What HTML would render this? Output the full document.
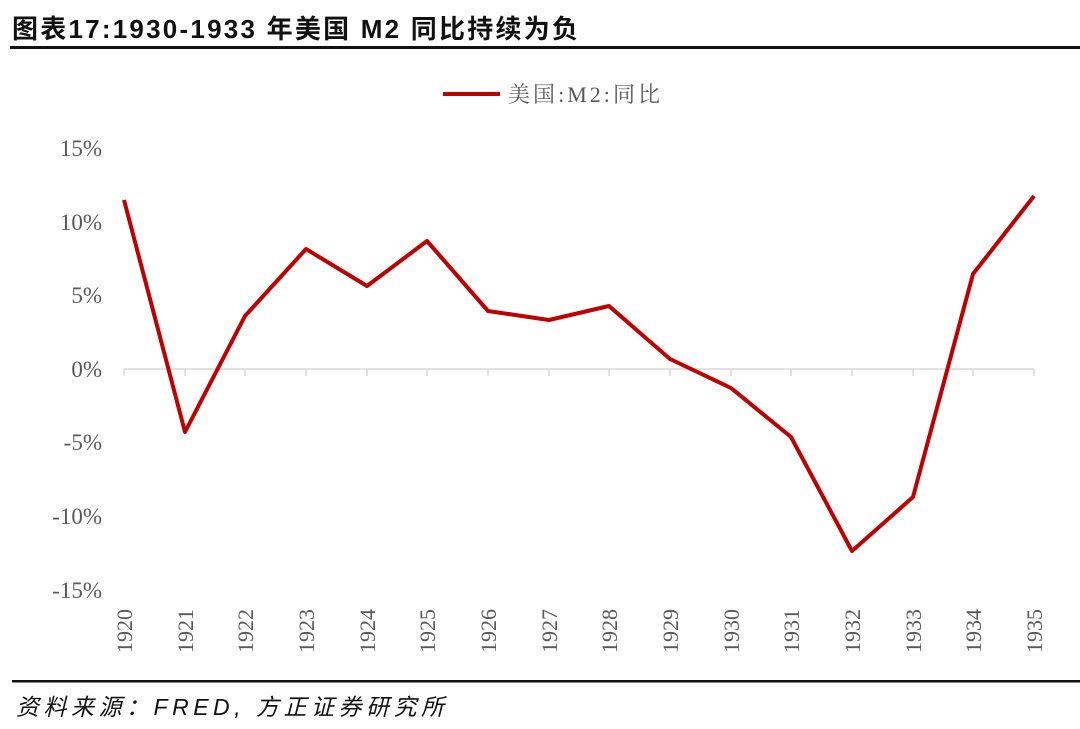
<!DOCTYPE html>
<html><head><meta charset="utf-8"><style>
body{margin:0;background:#fff;width:1080px;height:729px;overflow:hidden}
svg{display:block}
</style></head><body>
<svg width="1080" height="729" xmlns="http://www.w3.org/2000/svg">
<text x="12" y="38" font-family="'Liberation Sans','Noto Sans CJK SC',sans-serif" font-size="26" font-weight="bold" fill="#111" textLength="566" lengthAdjust="spacing">图表17:1930-1933 年美国 M2 同比持续为负</text>
<rect x="10" y="46" width="1070" height="3" fill="#111"/>
<line x1="443" y1="94" x2="500" y2="94" stroke="#c00000" stroke-width="4"/>
<text x="508" y="102" font-family="'Liberation Serif','Noto Serif CJK SC',serif" font-size="22" fill="#595959" textLength="152" lengthAdjust="spacing">美国:M2:同比</text>
<g font-family="'Liberation Serif',serif" font-size="23" fill="#595959" text-anchor="end">
<text x="102" y="156">15%</text><text x="102" y="230">10%</text><text x="102" y="303">5%</text><text x="102" y="377">0%</text>
<text x="102" y="450">-5%</text><text x="102" y="524">-10%</text><text x="102" y="598">-15%</text>
</g>
<g stroke="#d9d9d9" stroke-width="1.5">
<line x1="124" y1="369" x2="1034" y2="369"/>
<line x1="124" y1="369" x2="124" y2="376"/><line x1="185" y1="369" x2="185" y2="376"/><line x1="245" y1="369" x2="245" y2="376"/><line x1="306" y1="369" x2="306" y2="376"/><line x1="367" y1="369" x2="367" y2="376"/><line x1="427" y1="369" x2="427" y2="376"/><line x1="488" y1="369" x2="488" y2="376"/><line x1="549" y1="369" x2="549" y2="376"/><line x1="609" y1="369" x2="609" y2="376"/><line x1="670" y1="369" x2="670" y2="376"/><line x1="731" y1="369" x2="731" y2="376"/><line x1="791" y1="369" x2="791" y2="376"/><line x1="852" y1="369" x2="852" y2="376"/><line x1="913" y1="369" x2="913" y2="376"/><line x1="973" y1="369" x2="973" y2="376"/><line x1="1034" y1="369" x2="1034" y2="376"/>
</g>
<g font-family="'Liberation Serif',serif" font-size="22" fill="#595959" text-anchor="middle">
<text transform="translate(132,631) rotate(-90)">1920</text>
<text transform="translate(193,631) rotate(-90)">1921</text>
<text transform="translate(253,631) rotate(-90)">1922</text>
<text transform="translate(314,631) rotate(-90)">1923</text>
<text transform="translate(375,631) rotate(-90)">1924</text>
<text transform="translate(435,631) rotate(-90)">1925</text>
<text transform="translate(496,631) rotate(-90)">1926</text>
<text transform="translate(557,631) rotate(-90)">1927</text>
<text transform="translate(617,631) rotate(-90)">1928</text>
<text transform="translate(678,631) rotate(-90)">1929</text>
<text transform="translate(739,631) rotate(-90)">1930</text>
<text transform="translate(799,631) rotate(-90)">1931</text>
<text transform="translate(860,631) rotate(-90)">1932</text>
<text transform="translate(921,631) rotate(-90)">1933</text>
<text transform="translate(981,631) rotate(-90)">1934</text>
<text transform="translate(1042,631) rotate(-90)">1935</text>
</g>
<polyline fill="none" stroke="#c00000" stroke-width="4" stroke-linejoin="round" points="124,200 185,432 245,316 306,249 367,286 427,241 488,311 549,320 609,306 670,359 731,388 791,437 852,551 913,497 973,274 1034,196"/>
<rect x="12" y="680" width="1068" height="2.5" fill="#111"/>
<text x="16" y="715" font-family="'Liberation Sans','Noto Sans CJK SC',sans-serif" font-size="23" font-style="italic" fill="#111" textLength="428" lengthAdjust="spacing">资料来源：FRED, 方正证券研究所</text>
</svg>
</body></html>
